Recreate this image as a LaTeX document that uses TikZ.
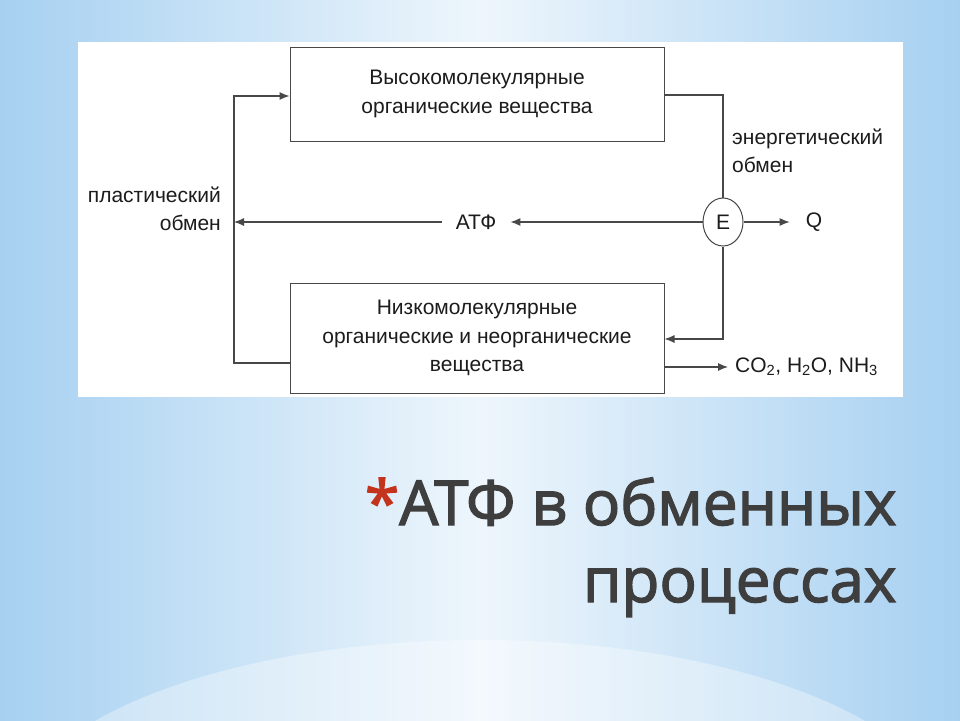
\documentclass[tikz,border=0pt]{standalone}
\usepackage{fontspec}
\setmainfont{Liberation Sans}
\newfontfamily\diagfont{Liberation Sans}
\newfontfamily\titlefont[RawFeature={embolden=2.2}]{Open Sans}
\usetikzlibrary{arrows.meta,positioning,calc,shapes.geometric}
\definecolor{SkyEdge}{RGB}{166,208,241}
\definecolor{SkyMid}{RGB}{238,246,252}
\definecolor{LineGray}{RGB}{72,72,72}
\definecolor{InkDark}{RGB}{28,28,28}
\definecolor{TitleGray}{RGB}{62,62,62}
\definecolor{StarRed}{RGB}{196,52,28}
\tikzset{
  subst/.style={draw=LineGray,line width=1pt,minimum width=374pt,align=center,
                font=\diagfont\fontsize{21}{28.5}\selectfont,text=InkDark,inner sep=0pt},
  lbl/.style={font=\diagfont\fontsize{21}{28.5}\selectfont,text=InkDark,inner sep=0pt},
  flow/.style={-{Latex[length=10pt,width=8pt]},draw=LineGray,line width=1.1pt},
  link/.style={draw=LineGray,line width=1.1pt},
}

\begin{document}
\begin{tikzpicture}[x=1pt,y=-1pt]
  \useasboundingbox (0,0) rectangle (960,720);
  % slide background
  \shade[left color=SkyEdge,right color=SkyEdge,middle color=SkyMid] (0,0) rectangle (960,720);
  \fill[white,opacity=0.35] (480,830) ellipse [x radius=470,y radius=190];
  \fill[white] (78,42) rectangle (903,397);
  % substances
  \node[subst,minimum height=94pt] (hmw) at (477,94) {Высокомолекулярные\\органические вещества};
  \node[subst,minimum height=110pt] (lmw) at (477,338) {Низкомолекулярные\\органические и неорганические\\вещества};
  \node[draw=LineGray,line width=1pt,ellipse,minimum width=40pt,minimum height=48pt,
        lbl,inner sep=0pt] (E) at (723,222) {E};
  \node[lbl,inner xsep=14pt] (atp) at (476,222) {АТФ};
  \node[lbl,inner xsep=16pt] (q) at (814,222) {Q};
  \node[lbl,anchor=west,inner xsep=7pt] (waste) at (728,367) {CO\textsubscript{2}, H\textsubscript{2}O, NH\textsubscript{3}};
  \node[lbl,anchor=east,align=right] (plast) at (221,209) {пластический\\обмен};
  \node[lbl,anchor=west,align=left] (energ) at (732,151) {энергетический\\обмен};
  \coordinate (lt) at (234,96);
  \coordinate (lb) at (234,363);
  \coordinate (rt) at (723,95);
  \coordinate (rb) at (723,339);
  % plastic exchange loop
  \draw[flow] (lmw.west |- lb) -- (lb) -- (lt) -- (lt -| hmw.west);
  \draw[flow] (atp.west) -- (atp.west -| lt);
  % energy exchange loop
  \draw[link] (rt -| hmw.east) -- (rt) -- (E.north);
  \draw[flow] (E.south) -- (rb) -- (rb -| lmw.east);
  \draw[flow] (E.west) -- (atp.east);
  \draw[flow] (E.east) -- (q.west);
  \draw[flow] (lmw.east |- waste.west) -- (waste.west);
  % title
  \node[anchor=base east,align=right,text=TitleGray,
        font=\titlefont\fontsize{62}{77}\selectfont] (title) at (900,602)
        {{\color{StarRed}*}АТФ в обменных\\процессах};
\end{tikzpicture}
\end{document}
